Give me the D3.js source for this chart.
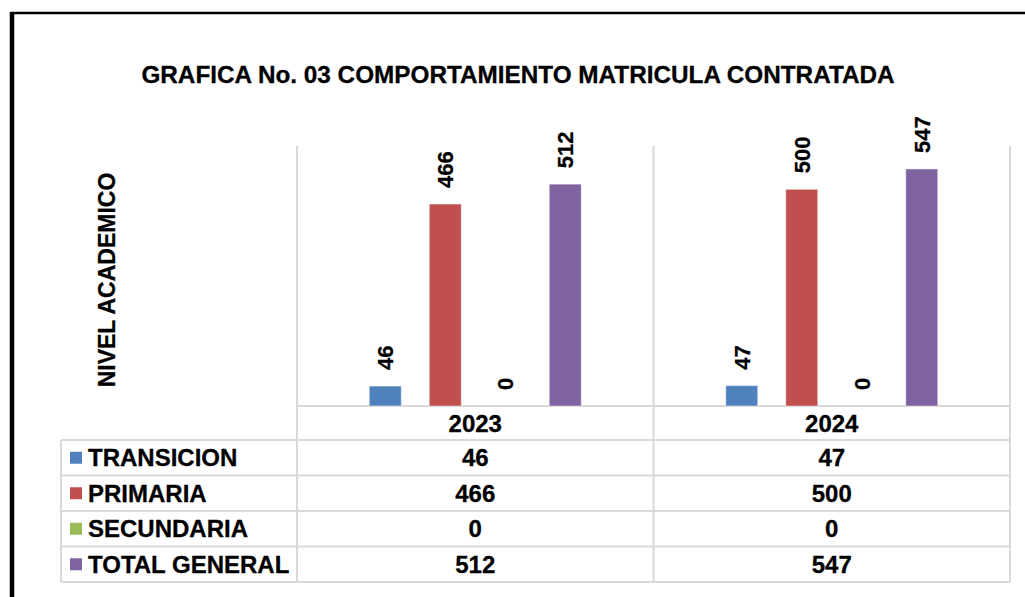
<!DOCTYPE html>
<html>
<head>
<meta charset="utf-8">
<script src="https://cdn.jsdelivr.net/npm/d3@7"></script>
<style>
    body { margin: 0; background: #fff; }
    text { font-family: "Liberation Sans", Arial, sans-serif; font-weight: bold; fill: #000; stroke: #000; stroke-width: 0.3px; }
</style>
</head>
<body>
<script>
const years = ['2023', '2024'];
const series = ['TRANSICION', 'PRIMARIA', 'SECUNDARIA', 'TOTAL GENERAL'];
const transicion = [46, 47];
const primaria = [466, 500];
const secundaria = [0, 0];
const totalGeneral = [512, 547];
const yTicks = [0, 600];

const values = [transicion, primaria, secundaria, totalGeneral];

window.onload = () => {
    const width = 1025;
    const height = 597;

    const svg = d3.select('body')
                  .append('svg')
                  .attr('width', width)
                  .attr('height', height);

    // black frame (only left and top visible)
    svg.append('rect')
       .attr('x', 12)
       .attr('y', 13)
       .attr('width', width + 20)
       .attr('height', height + 20)
       .style('fill', 'none')
       .style('stroke', '#000')
       .style('stroke-width', 2.5);
    svg.append('line')
       .attr('x1', 12).attr('x2', 12)
       .attr('y1', 12).attr('y2', height)
       .style('stroke', '#000')
       .style('stroke-width', 4.5);

    svg.append('text')
       .attr('x', 518)
       .attr('y', 83)
       .attr('text-anchor', 'middle')
       .style('font-size', '24.3px')
       .text('GRAFICA No. 03 COMPORTAMIENTO MATRICULA CONTRATADA');

    const x0 = d3.scaleBand().domain(years).range([297, 1010]);
    const x1 = d3.scaleBand()
                 .domain(series)
                 .range([0, 240])
                 .paddingInner(28 / 60)
                 .paddingOuter(14 / 60);
    const y = d3.scaleLinear().domain(d3.extent(yTicks)).range([406, 146]);
    const rows = d3.scaleBand().domain(series).range([440, 582]);
    const color = d3.scaleOrdinal()
                    .domain(series)
                    .range(['#4f81bd', '#c0504d', '#9bbb59', '#8064a2']);

    appendTable(svg, x0, y, rows);
    appendBars(svg, x0, x1, y, color);
    appendRows(svg, x0, rows, color);

    svg.append('text')
       .attr('transform', `translate(107, 280) rotate(-90)`)
       .attr('text-anchor', 'middle')
       .attr('dy', '0.36em')
       .style('font-size', '23px')
       .text('NIVEL ACADEMICO');
};

const appendTable = (svg, x0, y, rows) => {
    const grid = svg.append('g')
                    .style('stroke', '#d9d9d9')
                    .style('stroke-width', 2);
    const [top] = y.range().slice(-1);
    const bottom = rows.range()[1];

    // vertical lines
    const xs = years.map(d => x0(d)).concat([x0.range()[1]]);
    xs.forEach(v => {
        grid.append('line')
            .attr('x1', v).attr('x2', v)
            .attr('y1', top).attr('y2', bottom);
    });
    grid.append('line')
        .attr('x1', 61).attr('x2', 61)
        .attr('y1', rows.range()[0]).attr('y2', bottom);

    // axis baseline
    grid.append('line')
        .attr('x1', x0.range()[0]).attr('x2', x0.range()[1])
        .attr('y1', y(0)).attr('y2', y(0));

    // row lines
    const ys = series.map(d => rows(d)).concat([bottom]);
    ys.forEach(v => {
        grid.append('line')
            .attr('x1', 61).attr('x2', x0.range()[1])
            .attr('y1', v).attr('y2', v);
    });

    // year labels
    svg.selectAll('.year')
       .data(years)
       .enter()
       .append('text')
       .attr('class', 'year')
       .attr('x', d => x0(d) + x0.bandwidth() / 2)
       .attr('y', (y(0) + rows.range()[0]) / 2)
       .attr('dy', '0.36em')
       .attr('text-anchor', 'middle')
       .style('font-size', '24px')
       .text(d => d);
};

const appendBars = (svg, x0, x1, y, color) => {
    const groups = svg.selectAll('.year-group')
                      .data(years)
                      .enter()
                      .append('g')
                      .attr('class', 'year-group')
                      .attr('transform', d => `translate(${x0(d) + x0.bandwidth() / 2 - 120},0)`);

    const items = groups.selectAll('.bar')
                        .data((d, i) => series.map((s, j) => ({ key: s, value: values[j][i] })))
                        .enter();

    items.append('rect')
         .attr('class', 'bar')
         .attr('x', d => x1(d.key))
         .attr('y', d => y(d.value))
         .attr('width', x1.bandwidth())
         .attr('height', d => y(0) - y(d.value))
         .style('fill', d => color(d.key))
         .style('stroke', 'rgba(255,255,255,0.45)')
         .style('stroke-width', 1);

    // value labels
    items.append('text')
         .attr('transform', d => `translate(${x1(d.key) + x1.bandwidth() / 2},${y(d.value) - 16}) rotate(-90)`)
         .attr('dy', '0.36em')
         .attr('text-anchor', 'start')
         .style('font-size', '22px')
         .text(d => d.value);
};

const appendRows = (svg, x0, rows, color) => {
    const row = svg.selectAll('.row')
                   .data(series)
                   .enter()
                   .append('g')
                   .attr('class', 'row')
                   .attr('transform', d => `translate(0,${rows(d) + rows.bandwidth() / 2})`);

    // legend key
    row.append('rect')
       .attr('x', 70)
       .attr('y', -6)
       .attr('width', 12)
       .attr('height', 12)
       .style('fill', d => color(d));

    row.append('text')
       .attr('x', 88)
       .attr('dy', '0.36em')
       .style('font-size', '24px')
       .text(d => d);

    row.each(function (d, j) {
        d3.select(this)
          .selectAll('.cell')
          .data(years)
          .enter()
          .append('text')
          .attr('class', 'cell')
          .attr('x', yr => x0(yr) + x0.bandwidth() / 2)
          .attr('dy', '0.36em')
          .attr('text-anchor', 'middle')
          .style('font-size', '24px')
          .text((yr, i) => values[j][i]);
    });
};
</script>
</body>
</html>
